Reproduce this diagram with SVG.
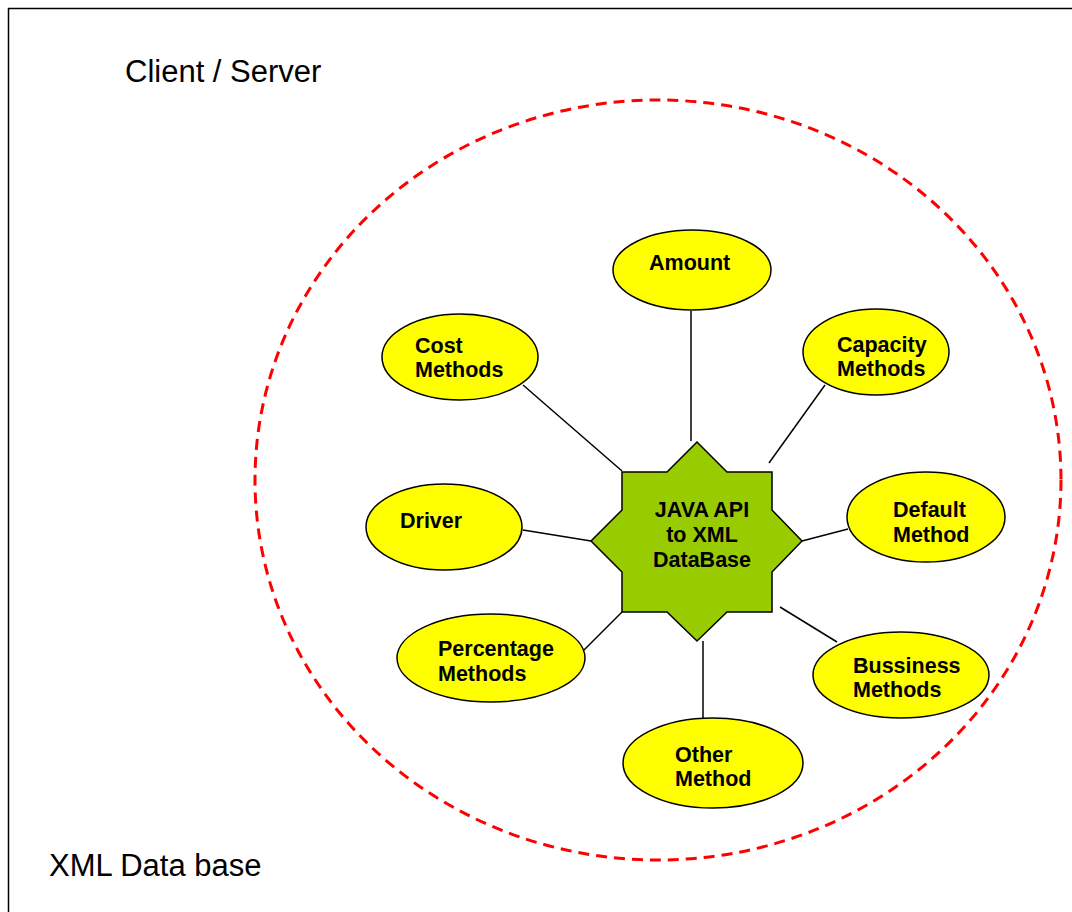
<svg xmlns="http://www.w3.org/2000/svg" width="1072" height="912" viewBox="0 0 1072 912">
<style>
.lbl{font-family:"Liberation Sans",Arial,sans-serif;font-size:31px;fill:#000}
.nt{font-family:"Liberation Sans",Arial,sans-serif;font-size:21.5px;font-weight:bold;fill:#000}
.ell{fill:#FFFF00;stroke:#000;stroke-width:1.5}
.con{stroke:#000;stroke-width:1.5;fill:none}
</style>
<rect width="1072" height="912" fill="#fff"/>
<rect x="8.5" y="8.5" width="1080" height="920" fill="none" stroke="#000" stroke-width="1.5"/>
<text class="lbl" x="125" y="82">Client / Server</text>
<text class="lbl" x="49" y="876">XML Data base</text>
<ellipse cx="658" cy="480" rx="403" ry="380" fill="none" stroke="#FF0000" stroke-width="3" stroke-dasharray="11 7"/>
<g id="connectors">
<line class="con" x1="691" y1="311" x2="691" y2="441"/>
<line class="con" x1="523" y1="385" x2="622" y2="471"/>
<line class="con" x1="825" y1="385" x2="769" y2="463"/>
<line class="con" x1="523" y1="530" x2="591" y2="541"/>
<line class="con" x1="802" y1="541" x2="848" y2="529"/>
<line class="con" x1="582" y1="652" x2="624" y2="610"/>
<line class="con" x1="780" y1="607" x2="837" y2="642"/>
<line class="con" x1="703" y1="641" x2="703" y2="718"/>
</g>
<g id="center">
<polygon points="697,442 727,472 772,472 772,510 802,541 772,572 772,612 727,612 697,641 667,612 622,612 622,572 591,541 622,510 622,472 667,472" fill="#99CC00" stroke="#000" stroke-width="1.5"/>
<text class="nt" text-anchor="middle" x="702" y="517">JAVA API</text>
<text class="nt" text-anchor="middle" x="702" y="542">to XML</text>
<text class="nt" text-anchor="middle" x="702" y="567">DataBase</text>
</g>
<g id="amount">
<ellipse class="ell" cx="692" cy="270" rx="79" ry="40"/>
<text class="nt" x="649" y="270">Amount</text>
</g>
<g id="cost">
<ellipse class="ell" cx="460" cy="357" rx="78" ry="43"/>
<text class="nt" x="415" y="353">Cost</text>
<text class="nt" x="415" y="377">Methods</text>
</g>
<g id="capacity">
<ellipse class="ell" cx="876" cy="352" rx="73" ry="43"/>
<text class="nt" x="837" y="352">Capacity</text>
<text class="nt" x="837" y="376">Methods</text>
</g>
<g id="driver">
<ellipse class="ell" cx="444" cy="527" rx="78" ry="43"/>
<text class="nt" x="400" y="528">Driver</text>
</g>
<g id="default">
<ellipse class="ell" cx="926" cy="517" rx="79" ry="45"/>
<text class="nt" x="893" y="517">Default</text>
<text class="nt" x="893" y="542">Method</text>
</g>
<g id="percentage">
<ellipse class="ell" cx="491" cy="658" rx="94" ry="44"/>
<text class="nt" x="438" y="656">Percentage</text>
<text class="nt" x="438" y="681">Methods</text>
</g>
<g id="bussiness">
<ellipse class="ell" cx="901" cy="675" rx="88" ry="43"/>
<text class="nt" x="853" y="673">Bussiness</text>
<text class="nt" x="853" y="697">Methods</text>
</g>
<g id="other">
<ellipse class="ell" cx="713" cy="763" rx="90" ry="45"/>
<text class="nt" x="675" y="762">Other</text>
<text class="nt" x="675" y="786">Method</text>
</g>
</svg>
